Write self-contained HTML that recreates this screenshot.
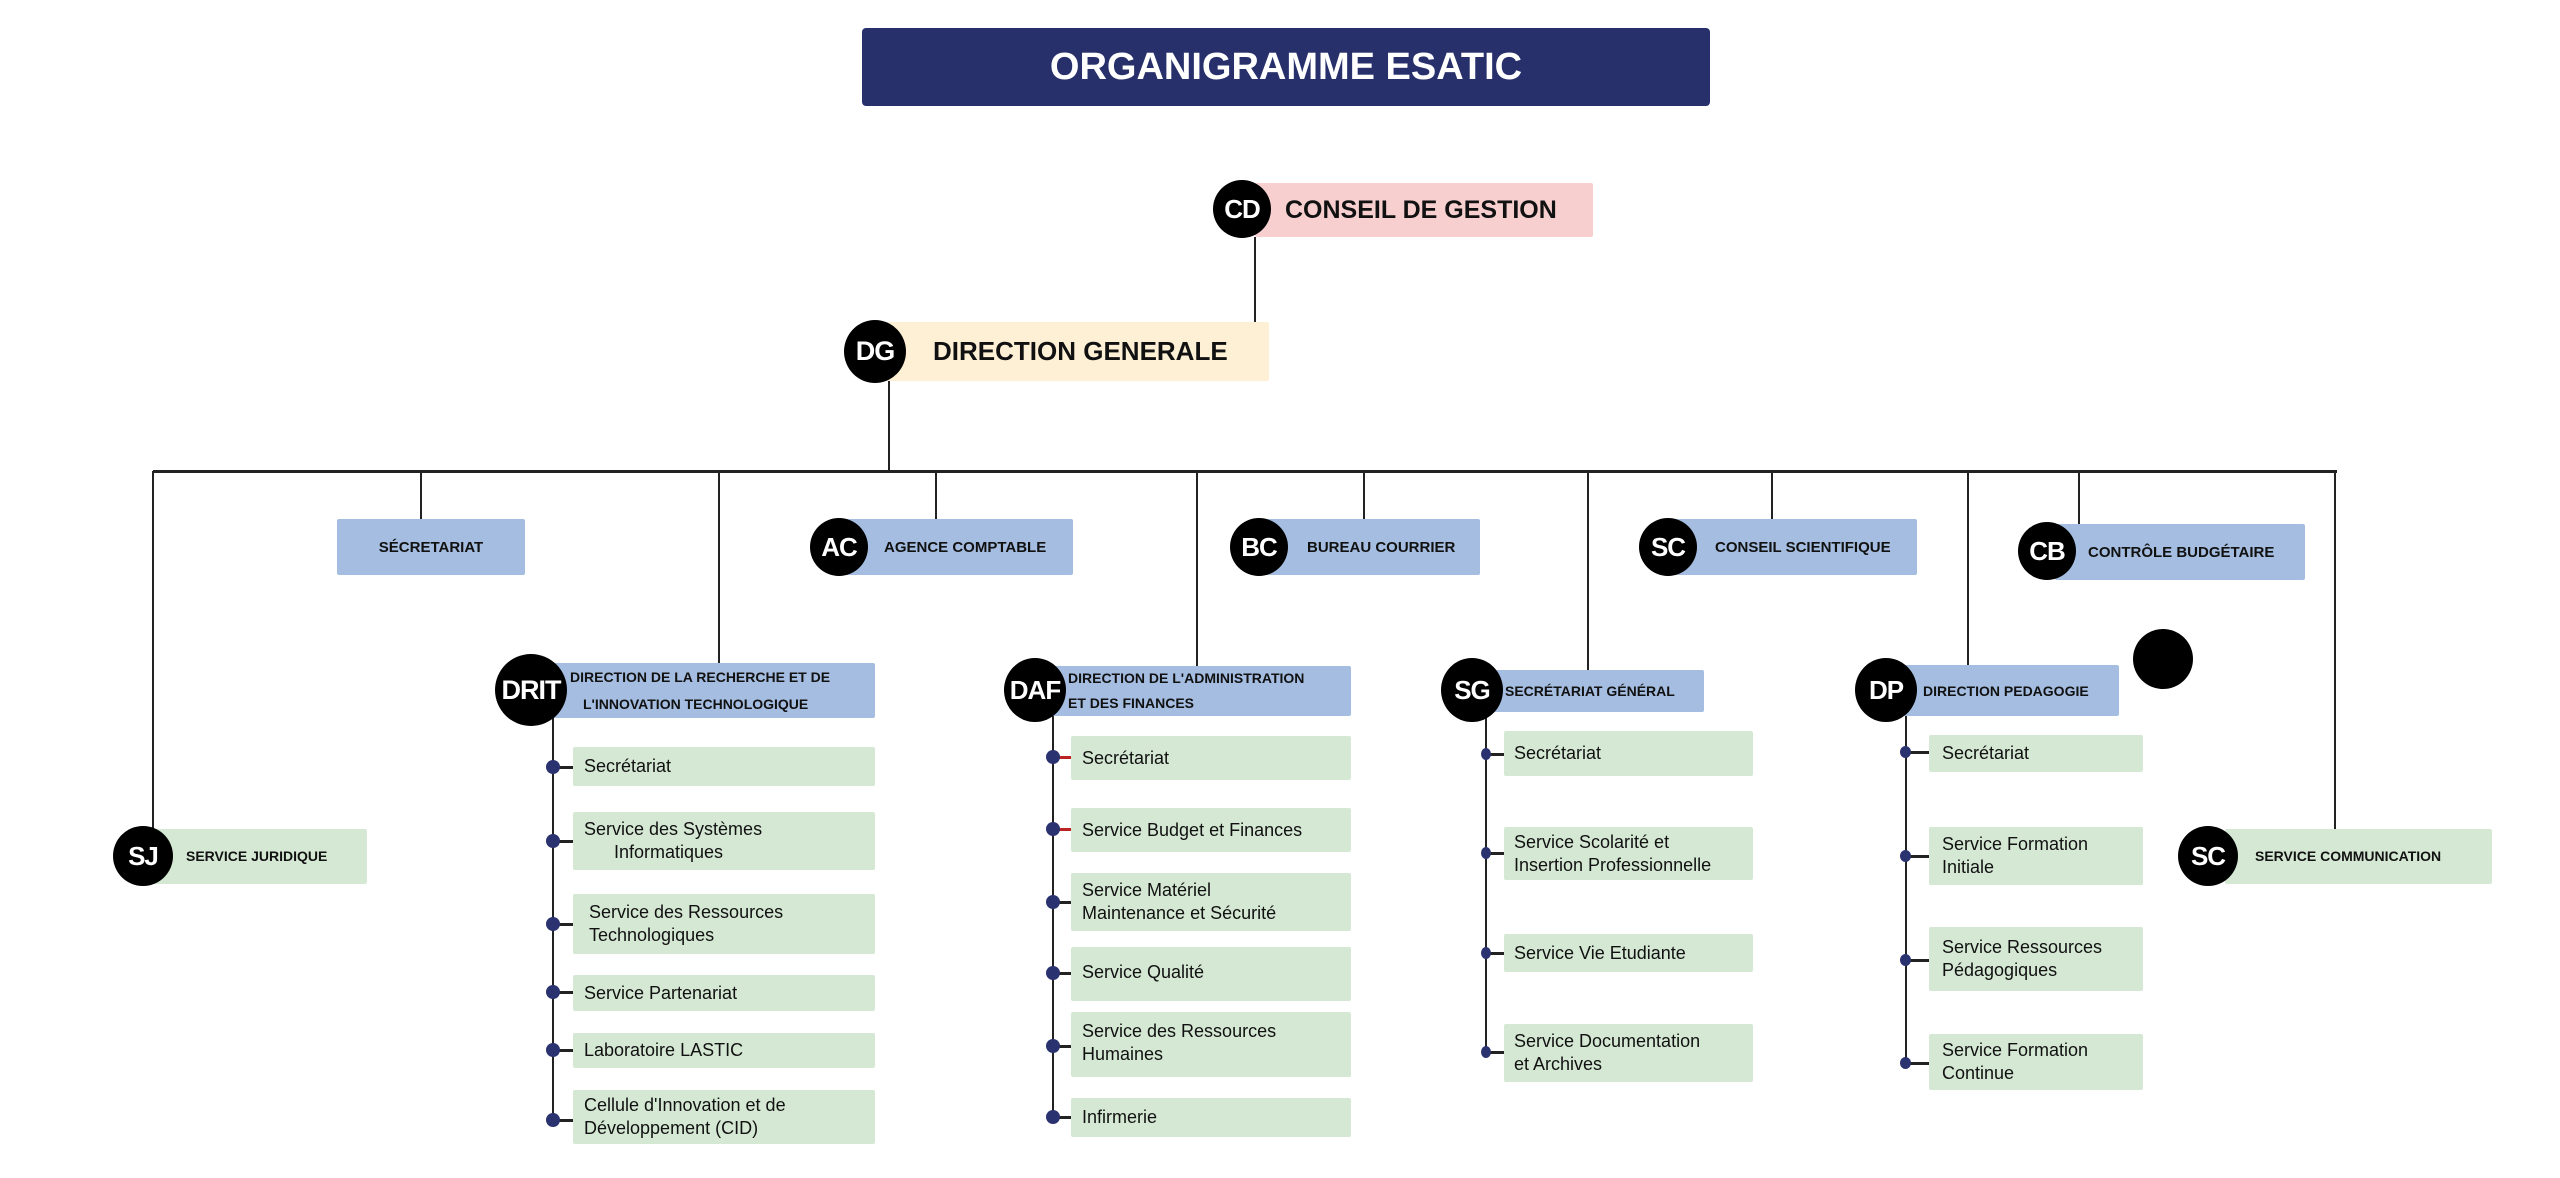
<!DOCTYPE html>
<html><head><meta charset="utf-8"><style>
*{margin:0;padding:0;box-sizing:border-box}
body{width:2560px;height:1178px;background:#fff;position:relative;overflow:hidden;font-family:"Liberation Sans",sans-serif;color:#111}
.a{position:absolute}
.v{position:absolute;width:2px;background:#222}
.h{position:absolute;height:3px;background:#222}
.c{position:absolute;border-radius:50%;background:#000;color:#fff;font-weight:bold;display:flex;align-items:center;justify-content:center;z-index:3;letter-spacing:-1px}
.b{position:absolute;background:#a4bde0;font-weight:bold;font-size:15px;display:flex;align-items:center;border-radius:2px;z-index:2}
.g{position:absolute;background:#d5e8d4;font-size:18px;line-height:23px;display:flex;align-items:center;border-radius:2px;z-index:2}
.d{position:absolute;width:14px;height:14px;border-radius:50%;background:#2a3370;z-index:3}
.s{position:absolute;height:3px;background:#222;z-index:1}
</style></head><body>
<div class="a" style="left:862px;top:28px;width:848px;height:78px;background:#27306b;border-radius:4px;color:#fff;font-weight:bold;font-size:38px;display:flex;align-items:center;justify-content:center">ORGANIGRAMME ESATIC</div>

<!-- CD -->
<div class="c" style="left:1213px;top:180px;width:58px;height:58px;font-size:26px">CD</div>
<div class="b" style="left:1255px;top:183px;width:338px;height:54px;background:#f7cfcf;font-size:25px;padding-left:30px">CONSEIL DE GESTION</div>
<div class="v" style="left:1254px;top:237px;height:86px"></div>
<!-- DG -->
<div class="c" style="left:844px;top:320px;width:62px;height:63px;font-size:27px">DG</div>
<div class="b" style="left:880px;top:322px;width:389px;height:59px;background:#fdf0d5;font-size:26px;padding-left:53px">DIRECTION GENERALE</div>
<div class="v" style="left:888px;top:381px;height:91px"></div>
<div class="h" style="left:153px;top:470px;width:2184px"></div>

<!-- verticals -->
<div class="v" style="left:152px;top:471px;height:357px"></div>
<div class="v" style="left:420px;top:471px;height:50px"></div>
<div class="v" style="left:718px;top:471px;height:193px"></div>
<div class="v" style="left:935px;top:471px;height:50px"></div>
<div class="v" style="left:1196px;top:471px;height:196px"></div>
<div class="v" style="left:1363px;top:471px;height:50px"></div>
<div class="v" style="left:1587px;top:471px;height:200px"></div>
<div class="v" style="left:1771px;top:471px;height:50px"></div>
<div class="v" style="left:1967px;top:471px;height:195px"></div>
<div class="v" style="left:2078px;top:471px;height:54px"></div>
<div class="v" style="left:2334px;top:471px;height:358px"></div>

<!-- row 2 -->
<div class="b" style="left:337px;top:519px;width:188px;height:56px;justify-content:center">SÉCRETARIAT</div>
<div class="c" style="left:810px;top:518px;width:58px;height:58px;font-size:26px">AC</div>
<div class="b" style="left:845px;top:519px;width:228px;height:56px;padding-left:39px">AGENCE COMPTABLE</div>
<div class="c" style="left:1230px;top:518px;width:58px;height:58px;font-size:26px">BC</div>
<div class="b" style="left:1265px;top:519px;width:215px;height:56px;padding-left:42px">BUREAU COURRIER</div>
<div class="c" style="left:1639px;top:518px;width:58px;height:58px;font-size:26px">SC</div>
<div class="b" style="left:1675px;top:519px;width:242px;height:56px;padding-left:40px">CONSEIL SCIENTIFIQUE</div>
<div class="c" style="left:2018px;top:522px;width:58px;height:58px;font-size:26px">CB</div>
<div class="b" style="left:2055px;top:524px;width:250px;height:56px;padding-left:33px">CONTRÔLE BUDGÉTAIRE</div>

<!-- SJ -->
<div class="c" style="left:113px;top:826px;width:60px;height:60px;font-size:26px">SJ</div>
<div class="g" style="left:150px;top:829px;width:217px;height:55px;font-weight:bold;font-size:14px;padding-left:36px">SERVICE JURIDIQUE</div>
<!-- SC comm -->
<div class="c" style="left:2178px;top:826px;width:60px;height:60px;font-size:26px">SC</div>
<div class="g" style="left:2225px;top:829px;width:267px;height:55px;font-weight:bold;font-size:14px;padding-left:30px">SERVICE COMMUNICATION</div>
<!-- lone circle -->
<div class="c" style="left:2133px;top:629px;width:60px;height:60px"></div>

<!-- DRIT -->
<div class="c" style="left:495px;top:654px;width:72px;height:72px;font-size:27px">DRIT</div>
<div class="b" style="left:540px;top:663px;width:335px;height:55px;font-size:14px;line-height:27px;display:block;padding-left:30px;padding-top:1px">DIRECTION DE LA RECHERCHE ET DE<br><span style="padding-left:13px">L'INNOVATION TECHNOLOGIQUE</span></div>
<div class="v" style="left:552px;top:718px;height:402px"></div>
<div class="d" style="left:546px;top:760px"></div><div class="s" style="left:553px;top:766px;width:20px"></div>
<div class="g" style="left:573px;top:747px;width:302px;height:39px;padding-left:11px">Secrétariat</div>
<div class="d" style="left:546px;top:834px"></div><div class="s" style="left:553px;top:840px;width:20px"></div>
<div class="g" style="left:573px;top:812px;width:302px;height:58px;padding-left:11px;display:block;padding-top:6px">Service des Systèmes<br><span style="padding-left:30px">Informatiques</span></div>
<div class="d" style="left:546px;top:917px"></div><div class="s" style="left:553px;top:923px;width:20px"></div>
<div class="g" style="left:573px;top:894px;width:302px;height:60px;padding-left:16px">Service des Ressources<br>Technologiques</div>
<div class="d" style="left:546px;top:985px"></div><div class="s" style="left:553px;top:991px;width:20px"></div>
<div class="g" style="left:573px;top:975px;width:302px;height:36px;padding-left:11px">Service Partenariat</div>
<div class="d" style="left:546px;top:1043px"></div><div class="s" style="left:553px;top:1049px;width:20px"></div>
<div class="g" style="left:573px;top:1033px;width:302px;height:35px;padding-left:11px">Laboratoire LASTIC</div>
<div class="d" style="left:546px;top:1113px"></div><div class="s" style="left:553px;top:1119px;width:20px"></div>
<div class="g" style="left:573px;top:1090px;width:302px;height:54px;padding-left:11px">Cellule d'Innovation et de<br>Développement (CID)</div>

<!-- DAF -->
<div class="c" style="left:1004px;top:658px;width:62px;height:64px;font-size:26px">DAF</div>
<div class="b" style="left:1050px;top:666px;width:301px;height:50px;font-size:14px;line-height:25px;display:block;padding-left:18px;padding-top:0px">DIRECTION DE L'ADMINISTRATION<br>ET DES FINANCES</div>
<div class="v" style="left:1052px;top:716px;height:400px"></div>
<div class="d" style="left:1046px;top:750px"></div><div class="s" style="left:1053px;top:756px;width:18px;background:#b22"></div>
<div class="g" style="left:1071px;top:736px;width:280px;height:44px;padding-left:11px">Secrétariat</div>
<div class="d" style="left:1046px;top:822px"></div><div class="s" style="left:1053px;top:828px;width:18px;background:#b22"></div>
<div class="g" style="left:1071px;top:808px;width:280px;height:44px;padding-left:11px">Service Budget et Finances</div>
<div class="d" style="left:1046px;top:895px"></div><div class="s" style="left:1053px;top:901px;width:18px"></div>
<div class="g" style="left:1071px;top:873px;width:280px;height:58px;padding-left:11px">Service Matériel<br>Maintenance et Sécurité</div>
<div class="d" style="left:1046px;top:966px"></div><div class="s" style="left:1053px;top:972px;width:18px"></div>
<div class="g" style="left:1071px;top:947px;width:280px;height:54px;padding-left:11px;align-items:flex-start;padding-top:14px">Service Qualité</div>
<div class="d" style="left:1046px;top:1039px"></div><div class="s" style="left:1053px;top:1045px;width:18px"></div>
<div class="g" style="left:1071px;top:1012px;width:280px;height:65px;padding-left:11px;align-items:flex-start;padding-top:8px">Service des Ressources<br>Humaines</div>
<div class="d" style="left:1046px;top:1110px"></div><div class="s" style="left:1053px;top:1116px;width:18px"></div>
<div class="g" style="left:1071px;top:1098px;width:280px;height:39px;padding-left:11px">Infirmerie</div>

<!-- SG -->
<div class="c" style="left:1441px;top:658px;width:62px;height:64px;font-size:26px">SG</div>
<div class="b" style="left:1490px;top:670px;width:214px;height:42px;font-size:14px;padding-left:15px">SECRÉTARIAT GÉNÉRAL</div>
<div class="v" style="left:1485px;top:712px;height:340px"></div>
<div class="d" style="left:1481px;top:748px;width:10px;height:12px"></div><div class="s" style="left:1486px;top:753px;width:18px"></div>
<div class="g" style="left:1504px;top:731px;width:249px;height:45px;padding-left:10px">Secrétariat</div>
<div class="d" style="left:1481px;top:847px;width:10px;height:12px"></div><div class="s" style="left:1486px;top:852px;width:18px"></div>
<div class="g" style="left:1504px;top:827px;width:249px;height:53px;padding-left:10px">Service Scolarité et<br>Insertion Professionnelle</div>
<div class="d" style="left:1481px;top:947px;width:10px;height:12px"></div><div class="s" style="left:1486px;top:952px;width:18px"></div>
<div class="g" style="left:1504px;top:934px;width:249px;height:38px;padding-left:10px">Service Vie Etudiante</div>
<div class="d" style="left:1481px;top:1046px;width:10px;height:12px"></div><div class="s" style="left:1486px;top:1051px;width:18px"></div>
<div class="g" style="left:1504px;top:1024px;width:249px;height:58px;padding-left:10px">Service Documentation<br>et Archives</div>

<!-- DP -->
<div class="c" style="left:1855px;top:658px;width:62px;height:64px;font-size:26px">DP</div>
<div class="b" style="left:1900px;top:665px;width:219px;height:51px;font-size:14px;padding-left:23px">DIRECTION PEDAGOGIE</div>
<div class="v" style="left:1905px;top:716px;height:347px"></div>
<div class="d" style="left:1900px;top:746px;width:11px;height:12px"></div><div class="s" style="left:1906px;top:751px;width:23px"></div>
<div class="g" style="left:1929px;top:735px;width:214px;height:37px;padding-left:13px">Secrétariat</div>
<div class="d" style="left:1900px;top:850px;width:11px;height:12px"></div><div class="s" style="left:1906px;top:855px;width:23px"></div>
<div class="g" style="left:1929px;top:827px;width:214px;height:58px;padding-left:13px">Service Formation<br>Initiale</div>
<div class="d" style="left:1900px;top:954px;width:11px;height:12px"></div><div class="s" style="left:1906px;top:959px;width:23px"></div>
<div class="g" style="left:1929px;top:927px;width:214px;height:64px;padding-left:13px">Service Ressources<br>Pédagogiques</div>
<div class="d" style="left:1900px;top:1057px;width:11px;height:12px"></div><div class="s" style="left:1906px;top:1062px;width:23px"></div>
<div class="g" style="left:1929px;top:1034px;width:214px;height:56px;padding-left:13px">Service Formation<br>Continue</div>
</body></html>
